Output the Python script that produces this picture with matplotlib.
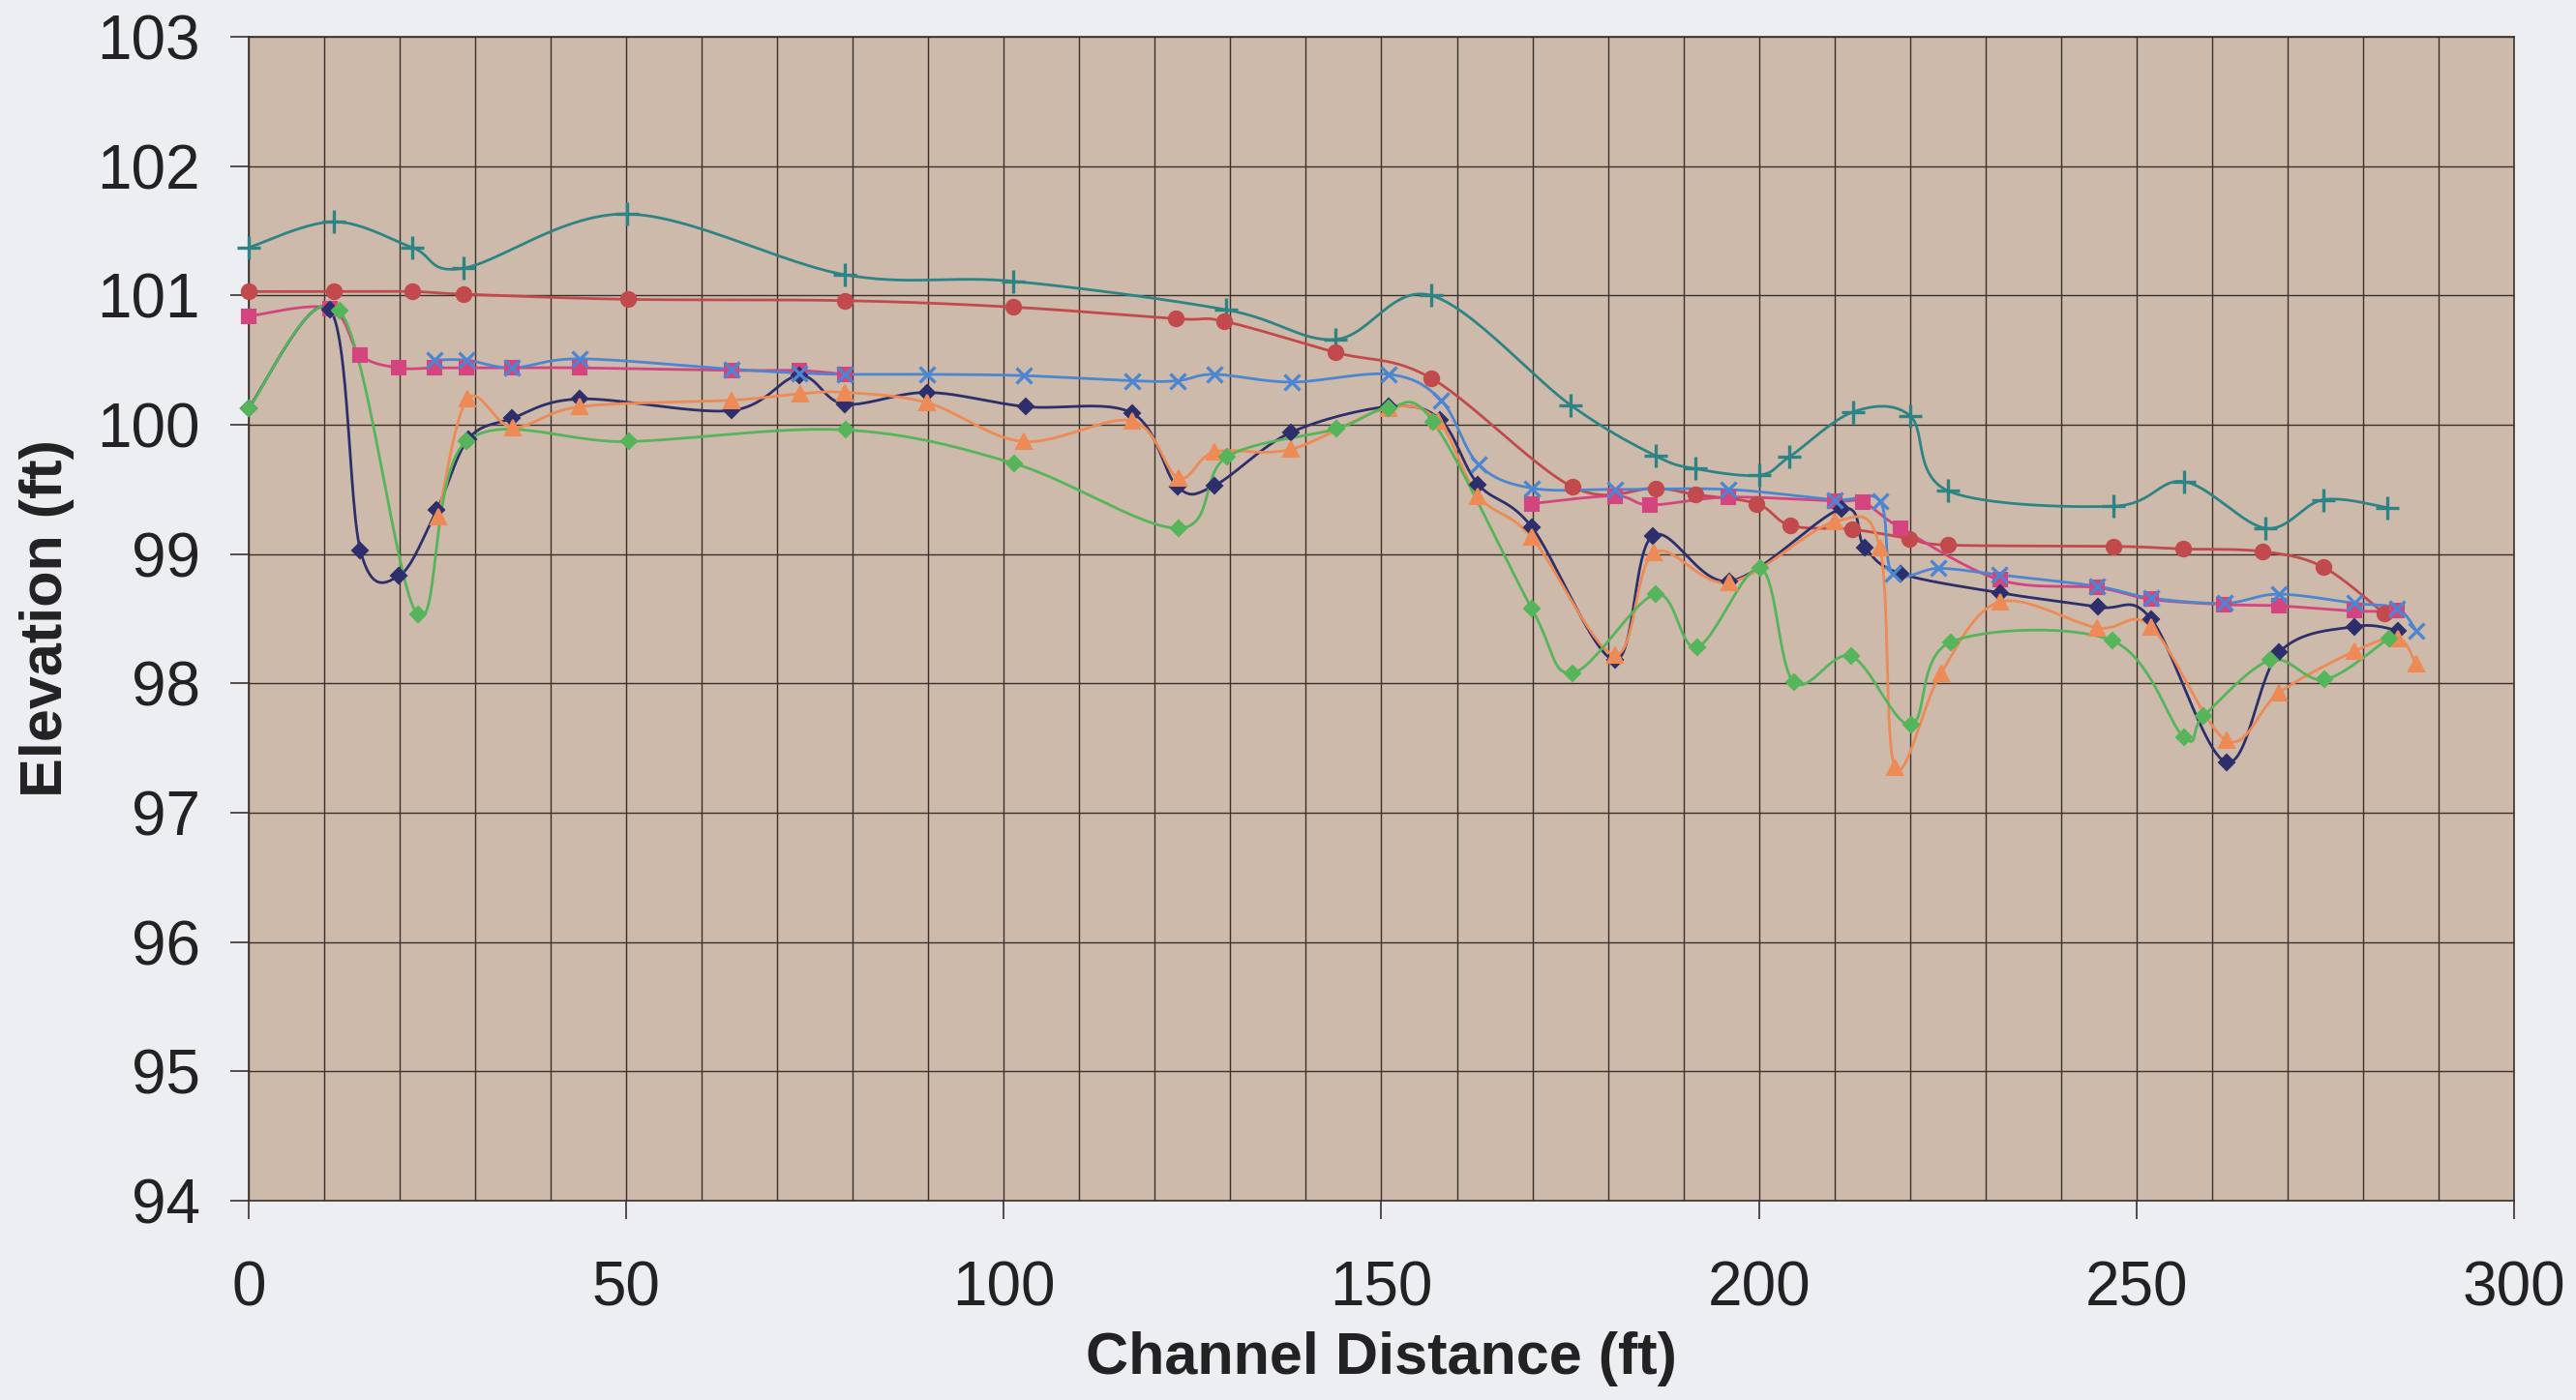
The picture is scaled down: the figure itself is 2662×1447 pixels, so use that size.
import numpy as np
import matplotlib.pyplot as plt
from matplotlib.ticker import MultipleLocator

nan = np.nan

# Valores (distância em ft, elevação em ft)
teal_x = [0, 11.3, 21.7, 28.4, 50.1, 79.0, 101.2, 129.4, 143.9, 156.6, 175.1, 186.3, 191.6, 200.0, 204.0,
          212.5, 220.0, 225.0, 247.0, 256.3, 267.1, 274.7, 283.2]
teal_y = [101.37, 101.57, 101.37, 101.21, 101.63, 101.16, 101.11, 100.89, 100.66, 101.0, 100.15, 99.76, 99.66,
          99.61, 99.75, 100.10, 100.07, 99.49, 99.37, 99.56, 99.20, 99.42, 99.36]

red_x = [0, 11.3, 21.7, 28.4, 50.3, 78.9, 101.2, 122.8, 129.2, 143.9, 156.6, 175.3, 186.3, 191.6, 199.7, 204.2,
         212.4, 219.9, 225.0, 247.0, 256.2, 266.7, 274.7, 282.8]
red_y = [101.03, 101.03, 101.03, 101.01, 100.97, 100.96, 100.91, 100.82, 100.80, 100.56, 100.36, 99.52, 99.51,
         99.46, 99.39, 99.22, 99.19, 99.12, 99.07, 99.06, 99.04, 99.02, 98.90, 98.54]

pink_x = [0, 10.8, 14.8, 19.9, 24.6, 28.9, 34.9, 43.9, 63.9, 72.9, 78.9, nan, 169.9, 180.9, 185.6, 195.9, 210.0,
          213.8, 218.8, 231.9, 244.8, 251.9, 261.6, 268.8, 278.9, 284.5]
pink_y = [100.84, 100.90, 100.54, 100.44, 100.44, 100.44, 100.44, 100.44, 100.42, 100.42, 100.39, nan, 99.39,
          99.45, 99.38, 99.44, 99.41, 99.40, 99.20, 98.80, 98.74, 98.65, 98.61, 98.60, 98.56, 98.56]

blue_x = [24.6, 28.9, 34.9, 43.9, 63.9, 72.9, 78.9, 89.9, 102.6, 117.0, 123.0, 127.9, 138.1, 151.0, 157.9, 162.9,
          169.9, 180.9, 195.9, 210.0, 216.0, 217.7, 223.8, 231.8, 244.8, 251.9, 261.7, 268.8, 278.9, 284.5, 287.0]
blue_y = [100.50, 100.50, 100.44, 100.51, 100.43, 100.40, 100.39, 100.39, 100.38, 100.34, 100.34, 100.39, 100.33,
          100.39, 100.19, 99.69, 99.51, 99.50, 99.50, 99.42, 99.41, 98.85, 98.89, 98.84, 98.75, 98.66, 98.62,
          98.69, 98.62, 98.58, 98.41]

navy_x = [0, 10.8, 14.8, 19.9, 24.9, 29.1, 34.9, 43.9, 63.9, 72.9, 78.9, 89.9, 102.9, 117.0, 123.0, 127.9, 138.0,
          150.9, 157.8, 162.8, 169.9, 180.9, 185.9, 196.1, 210.9, 214.0, 218.7, 231.9, 244.9, 251.9, 261.9,
          268.9, 278.9, 284.6]
navy_y = [100.13, 100.89, 99.03, 98.83, 99.34, 99.89, 100.05, 100.20, 100.11, 100.38, 100.16, 100.25, 100.14,
          100.09, 99.52, 99.53, 99.94, 100.14, 100.04, 99.54, 99.21, 98.18, 99.14, 98.79, 99.35, 99.05, 98.85,
          98.70, 98.59, 98.50, 97.39, 98.24, 98.44, 98.41]

orange_x = [25.1, 29.0, 35.0, 43.9, 63.9, 73.0, 78.9, 89.9, 102.6, 117.0, 123.1, 127.9, 138.0, 150.9, 157.5,
            162.8, 169.9, 180.9, 186.1, 196.1, 210.0, 216.0, 218.0, 224.1, 231.9, 244.8, 251.9, 261.9, 268.9,
            278.9, 284.6, 287.0]
orange_y = [99.29, 100.20, 99.98, 100.14, 100.19, 100.24, 100.25, 100.17, 99.87, 100.03, 99.59, 99.79, 99.81,
            100.13, 100.03, 99.45, 99.13, 98.22, 99.01, 98.78, 99.25, 99.05, 97.35, 98.08, 98.63, 98.43, 98.44,
            97.56, 97.93, 98.25, 98.35, 98.15]

green_x = [0, 12.1, 22.4, 28.8, 50.4, 79.1, 101.4, 123.2, 129.5, 144.1, 150.9, 156.9, 169.9, 175.3, 186.3,
           191.8, 200.2, 204.6, 212.2, 220.1, 225.4, 246.8, 256.3, 258.9, 267.7, 274.9, 283.4]
green_y = [100.13, 100.88, 98.53, 99.87, 99.87, 99.96, 99.70, 99.20, 99.75, 99.97, 100.13, 100.02, 98.58, 98.08,
           98.69, 98.28, 98.89, 98.01, 98.21, 97.68, 98.32, 98.33, 97.58, 97.75, 98.18, 98.03, 98.35]

x_ticks = [0, 50, 100, 150, 200, 250, 300]
y_ticks = [94, 95, 96, 97, 98, 99, 100, 101, 102, 103]


def suaviza(x, y, passos=30):
    # curva suavizada estilo Excel (Bezier com tangentes de Catmull-Rom)
    x = np.asarray(x, float)
    y = np.asarray(y, float)
    n = len(x)
    if n < 2:
        return x, y
    xs, ys = [x[0]], [y[0]]
    t = np.linspace(0, 1, passos)[1:]
    for i in range(n - 1):
        a = max(i - 1, 0)
        d = min(i + 2, n - 1)
        c1x = x[i] + (x[i + 1] - x[a]) / 6
        c1y = y[i] + (y[i + 1] - y[a]) / 6
        c2x = x[i + 1] - (x[d] - x[i]) / 6
        c2y = y[i + 1] - (y[d] - y[i]) / 6
        bx = (1 - t) ** 3 * x[i] + 3 * (1 - t) ** 2 * t * c1x + 3 * (1 - t) * t ** 2 * c2x + t ** 3 * x[i + 1]
        by = (1 - t) ** 3 * y[i] + 3 * (1 - t) ** 2 * t * c1y + 3 * (1 - t) * t ** 2 * c2y + t ** 3 * y[i + 1]
        xs.extend(bx)
        ys.extend(by)
    return np.array(xs), np.array(ys)


def desenha(ax, x, y, cor, marcador, tam, mew=1.5):
    x = np.asarray(x, float)
    y = np.asarray(y, float)
    # separa os trechos com falhas (nan)
    quebra = np.where(np.isnan(x))[0]
    inicio = 0
    for q in list(quebra) + [len(x)]:
        sx, sy = suaviza(x[inicio:q], y[inicio:q])
        ax.plot(sx, sy, color=cor, lw=2.0, solid_capstyle='round', zorder=3)
        inicio = q + 1
    ax.plot(x, y, ls='none', marker=marcador, ms=tam, color=cor, mec=cor, mew=mew,
            zorder=4, clip_on=False)


plt.rcParams['font.family'] = ['Liberation Sans', 'DejaVu Sans']

fig = plt.figure(figsize=(26.62, 14.47), dpi=100, facecolor='#ECEEF2')
ax = fig.add_axes([0.0965, 0.1424, 0.8795, 0.8313])
ax.set_facecolor('#CDBAAA')

desenha(ax, teal_x, teal_y, '#2E8484', '+', 17, mew=2.4)
desenha(ax, red_x, red_y, '#C24A4C', 'o', 11)
desenha(ax, pink_x, pink_y, '#D4447E', 's', 10.5)
desenha(ax, navy_x, navy_y, '#2C2F6C', 'D', 8.5)
desenha(ax, orange_x, orange_y, '#EE8A55', '^', 11)
desenha(ax, blue_x, blue_y, '#4C86D2', 'x', 12, mew=2.4)
desenha(ax, green_x, green_y, '#55B55A', 'D', 8.5)

ax.set_xlim(0, 300)
ax.set_ylim(94, 103)
ax.set_xticks(x_ticks)
ax.set_yticks(y_ticks)
ax.xaxis.set_minor_locator(MultipleLocator(10))
ax.grid(True, which='both', color='#3A302C', lw=1.0, zorder=1)
ax.set_axisbelow(True)
for s in ax.spines.values():
    s.set_color('#3A302C')
    s.set_linewidth(1.2)

ax.tick_params(axis='both', which='major', labelsize=46, colors='#3A302C', labelcolor='#222222',
               length=14, width=1.2, direction='out')
ax.tick_params(axis='x', which='major', pad=30)
ax.tick_params(axis='y', which='major', pad=22)
ax.tick_params(axis='x', which='minor', length=0)

ax.set_xlabel('Channel Distance (ft)', fontsize=44, fontweight='bold', color='#222222')
ax.set_ylabel('Elevation (ft)', fontsize=44, fontweight='bold', color='#222222')
ax.xaxis.set_label_coords(0.5, -0.112)
ax.yaxis.set_label_coords(-0.077, 0.5)

fig.savefig('out.png', dpi=100, facecolor=fig.get_facecolor())
